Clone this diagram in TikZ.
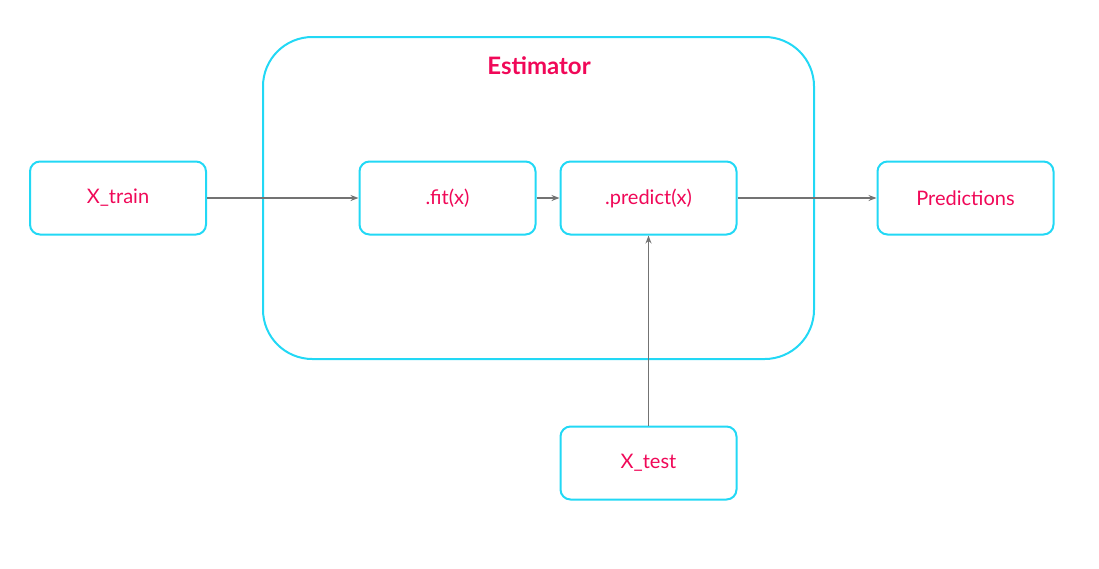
\documentclass[tikz,border=0pt]{standalone}
\usepackage{fontspec}
\setmainfont{Lato}
\usetikzlibrary{arrows.meta}
\definecolor{boxcyan}{RGB}{34,216,245}
\definecolor{textpink}{RGB}{240,8,88}
\definecolor{arrowgray}{RGB}{115,115,115}

\begin{document}
\begin{tikzpicture}[x=0.75pt,y=-0.75pt,
    stage/.style={draw=boxcyan, line width=1.5pt, rounded corners=7.5pt, fill=white,
        minimum width=132pt, minimum height=54.75pt, text=textpink, font=\fontsize{15}{17}\selectfont},
    flow/.style={draw=arrowgray, line width=1.3pt, -{Stealth[length=6pt,width=4.5pt]}}]
    \useasboundingbox (0,0) rectangle (1099,568);

    % the estimator
    \draw[draw=boxcyan, line width=1.5pt, rounded corners=37pt] (263,37) rectangle (814,359);
    \node[text=textpink, font=\fontsize{18}{20}\bfseries] (title) at (539,65.5) {Estimator};

    \node[stage] (train) at (118,198) {X\_train};
    \node[stage] (fit) at (447.5,198) {.fit(x)};
    \node[stage] (predict) at (648.5,198) {.predict(x)};
    \node[stage] (out) at (965.5,198) {Predictions};
    \node[stage] (test) at (648.5,463) {X\_test};

    \draw[flow] (train) -- (fit);
    \draw[flow] (fit) -- (predict);
    \draw[flow] (predict) -- (out);
    \draw[flow] (test) -- (predict);

\end{tikzpicture}
\end{document}
